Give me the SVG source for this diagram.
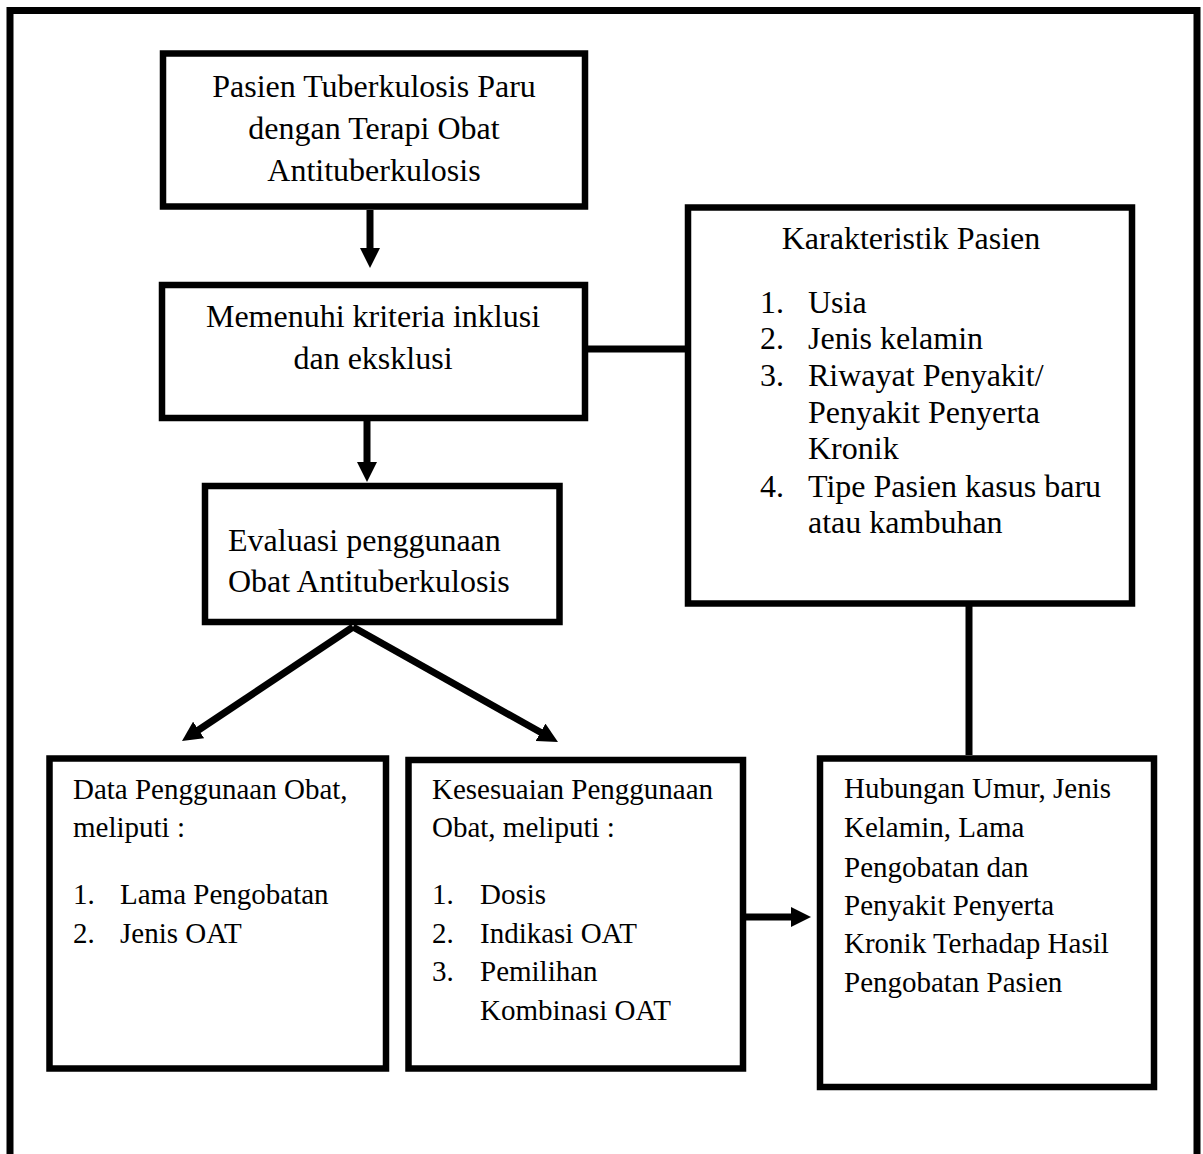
<svg xmlns="http://www.w3.org/2000/svg" width="1203" height="1154" viewBox="0 0 1203 1154">
<style>
.box{fill:#fff;stroke:#000;stroke-width:6.5}
.ln{fill:none;stroke:#000;stroke-width:7}
.t{font-family:"Liberation Serif","Times New Roman",serif;font-size:32px;fill:#000}
.s{font-size:29px}
.c{text-anchor:middle}
</style>
<defs>
<marker id="ah" markerUnits="userSpaceOnUse" viewBox="0 0 20 20" refX="1" refY="10" markerWidth="20" markerHeight="20" orient="auto">
<path d="M0,0 L20,10 L0,20 z" fill="#000"/>
</marker>
</defs>
<rect width="1203" height="1154" fill="#fff"/>
<path class="ln" d="M10,1154 V10.5 H1197 V1154"/>
<g id="connectors">
<line class="ln" x1="370" y1="210" x2="370" y2="249" marker-end="url(#ah)"/>
<line class="ln" x1="367" y1="421" x2="367" y2="463" marker-end="url(#ah)"/>
<line class="ln" x1="353" y1="627" x2="197.8" y2="730.5" marker-end="url(#ah)"/>
<line class="ln" x1="353" y1="627" x2="541.4" y2="732.8" marker-end="url(#ah)"/>
<line class="ln" x1="588" y1="349" x2="685" y2="349"/>
<line class="ln" x1="969" y1="606" x2="969" y2="755"/>
<line class="ln" x1="746" y1="917" x2="792" y2="917" marker-end="url(#ah)"/>
</g>
<g id="pasien">
<rect class="box" x="163" y="53.5" width="422" height="153"/>
<text class="t c" x="374" y="97">Pasien Tuberkulosis Paru</text>
<text class="t c" x="374" y="139">dengan Terapi Obat</text>
<text class="t c" x="374" y="181">Antituberkulosis</text>
</g>
<g id="kriteria">
<rect class="box" x="162" y="285" width="423" height="133"/>
<text class="t c" x="373" y="327">Memenuhi kriteria inklusi</text>
<text class="t c" x="373" y="369">dan eksklusi</text>
</g>
<g id="evaluasi">
<rect class="box" x="205" y="486" width="354.5" height="136"/>
<text class="t" x="228" y="551">Evaluasi penggunaan</text>
<text class="t" x="228" y="592">Obat Antituberkulosis</text>
</g>
<g id="karakteristik">
<rect class="box" x="688" y="207.5" width="444" height="396"/>
<text class="t c" x="911" y="249">Karakteristik Pasien</text>
<text class="t" x="760" y="313">1.</text><text class="t" x="808" y="313">Usia</text>
<text class="t" x="760" y="349">2.</text><text class="t" x="808" y="349">Jenis kelamin</text>
<text class="t" x="760" y="386">3.</text><text class="t" x="808" y="386">Riwayat Penyakit/</text>
<text class="t" x="808" y="423">Penyakit Penyerta</text>
<text class="t" x="808" y="459">Kronik</text>
<text class="t" x="760" y="497">4.</text><text class="t" x="808" y="497">Tipe Pasien kasus baru</text>
<text class="t" x="808" y="533">atau kambuhan</text>
</g>
<g id="data">
<rect class="box" x="49.5" y="758.5" width="336.5" height="310"/>
<text class="t s" x="73" y="799">Data Penggunaan Obat,</text>
<text class="t s" x="73" y="837">meliputi :</text>
<text class="t s" x="73" y="904">1.</text><text class="t s" x="120" y="904">Lama Pengobatan</text>
<text class="t s" x="73" y="943">2.</text><text class="t s" x="120" y="943">Jenis OAT</text>
</g>
<g id="kesesuaian">
<rect class="box" x="408.5" y="760" width="334.5" height="308.5"/>
<text class="t s" x="432" y="799">Kesesuaian Penggunaan</text>
<text class="t s" x="432" y="837">Obat, meliputi :</text>
<text class="t s" x="432" y="904">1.</text><text class="t s" x="480" y="904">Dosis</text>
<text class="t s" x="432" y="943">2.</text><text class="t s" x="480" y="943">Indikasi OAT</text>
<text class="t s" x="432" y="981">3.</text><text class="t s" x="480" y="981">Pemilihan</text>
<text class="t s" x="480" y="1020">Kombinasi OAT</text>
</g>
<g id="hubungan">
<rect class="box" x="820" y="758.5" width="334" height="328.5"/>
<text class="t s" x="844" y="798">Hubungan Umur, Jenis</text>
<text class="t s" x="844" y="837">Kelamin, Lama</text>
<text class="t s" x="844" y="877">Pengobatan dan</text>
<text class="t s" x="844" y="915">Penyakit Penyerta</text>
<text class="t s" x="844" y="953">Kronik Terhadap Hasil</text>
<text class="t s" x="844" y="992">Pengobatan Pasien</text>
</g>
</svg>
